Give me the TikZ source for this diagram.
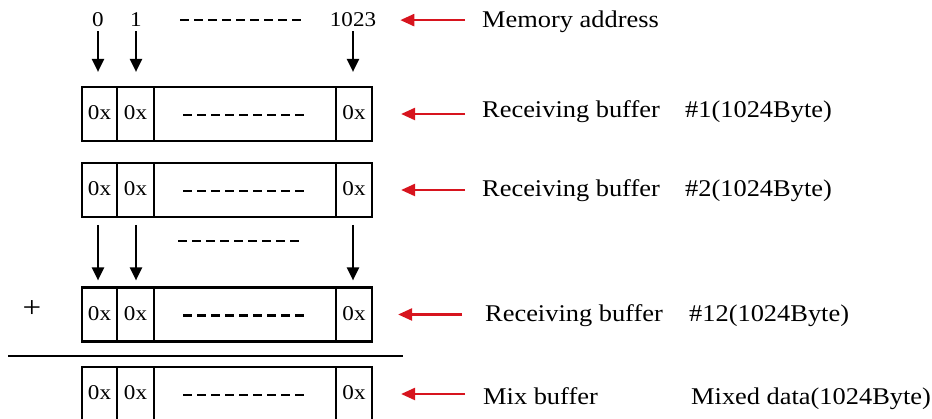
\documentclass[tikz,border=0pt]{standalone}
\usepackage{fontspec}
\setmainfont{Liberation Serif}[FakeStretch=1.1]
\usetikzlibrary{arrows.meta}
\definecolor{arrred}{RGB}{215,20,30}
\begin{document}
\begin{tikzpicture}[x=1pt,y=-1pt,
  cell/.style={draw,line width=2.2pt,rectangle,inner sep=0pt,minimum height=54pt,
    font=\fontsize{21}{24}\selectfont},
  addr/.style={inner sep=0pt,anchor=base,font=\fontsize{21}{24}\selectfont},
  lbl/.style={inner sep=0pt,anchor=base west,font=\fontsize{24}{28}\selectfont},
  blackarr/.style={line width=2.2pt,-{Triangle[length=13pt,width=12pt]}},
  redarr/.style={arrred,line width=2.4pt,-{Triangle[length=14pt,width=12pt]}},
  dots/.style={line width=2.6pt,dash pattern=on 9pt off 5pt}]
\useasboundingbox (0,0) rectangle (932,419);
\begin{scope}
\clip (0,0) rectangle (932,419);
% address labels
\node[addr] (ad0) at (98,27) {0};
\node[addr] (ad1) at (136,27) {1};
\node[addr] (ad3) at (353,27) {1023};
\coordinate (ds0a) at (180,20); \coordinate (ds0b) at (304,20);
\draw[dots] (ds0a) -- (ds0b);
% boxes
\foreach \i/\y in {1/114,2/190,3/314.5,4/394}{
  \node[cell,minimum width=35pt] (b\i a) at (99.5,\y) {};
  \node[cell,minimum width=37pt] (b\i b) at (135.5,\y) {};
  \node[cell,minimum width=182pt] (b\i m) at (245,\y) {};
  \node[cell,minimum width=36pt] (b\i d) at (354,\y) {};
  \node[addr] at ([yshift=-6pt]b\i a.center) {0x};
  \node[addr] at ([yshift=-6pt]b\i b.center) {0x};
  \node[addr] at ([yshift=-6pt]b\i d.center) {0x};
  \draw[dots] ([xshift=-62pt,yshift=-1pt]b\i m.center) -- ([xshift=60pt,yshift=-1pt]b\i m.center);
}
% arrows from addresses to buffer 1
\draw[blackarr,shorten <=4pt,shorten >=14pt] (ad0.south) -- (b1a.north -| ad0.south);
\draw[blackarr,shorten <=4pt,shorten >=14pt] (ad1.south) -- (b1b.north -| ad1.south);
\draw[blackarr,shorten <=4pt,shorten >=14pt] (ad3.south) -- (b1d.north -| ad3.south);
% arrows from buffer 2 to buffer 12
\coordinate (m0) at (98,225); \coordinate (m1) at (136,225); \coordinate (m3) at (353,225);
\draw[blackarr,shorten >=6pt] (m0) -- (b3a.north -| m0);
\draw[blackarr,shorten >=6pt] (m1) -- (b3b.north -| m1);
\draw[blackarr,shorten >=6pt] (m3) -- (b3d.north -| m3);
\coordinate (ds1a) at (178,241); \coordinate (ds1b) at (302,241);
\draw[dots] (ds1a) -- (ds1b);
% plus and sum line
\node[inner sep=0pt,font=\fontsize{30}{34}\selectfont] (plus) at (32,309) {+};
\coordinate (sa) at (8,356); \coordinate (sb) at (403,356);
\draw[line width=2.2pt] (sa) -- (sb);
% right labels
\node[lbl] (l0) at (482,28) {Memory address};
\node[lbl] (l1) at (482,118) {Receiving buffer};
\node[lbl] (n1) at (685,118) {\#1(1024Byte)};
\node[lbl] (l2) at (482,197) {Receiving buffer};
\node[lbl] (n2) at (685,197) {\#2(1024Byte)};
\node[lbl] (l3) at (485,322) {Receiving buffer};
\node[lbl] (n3) at (689,322) {\#12(1024Byte)};
\node[lbl] (l4) at (483,405) {Mix buffer};
\node[lbl] (n4) at (691,405) {Mixed data(1024Byte)};
% red arrows
\draw[redarr,shorten <=17pt,shorten >=24pt] (l0.west |- ad3.center) -- (ad3.east |- ad3.center);
\draw[redarr,shorten <=17pt,shorten >=28pt] (l1.west |- b1d.east) -- (b1d.east);
\draw[redarr,shorten <=17pt,shorten >=28pt] (l2.west |- b2d.east) -- (b2d.east);
\draw[redarr,shorten <=23pt,shorten >=25pt] (l3.west |- b3d.east) -- (b3d.east);
\draw[redarr,shorten <=18pt,shorten >=28pt] (l4.west |- b4d.east) -- (b4d.east);
\end{scope}
\end{tikzpicture}
\end{document}
